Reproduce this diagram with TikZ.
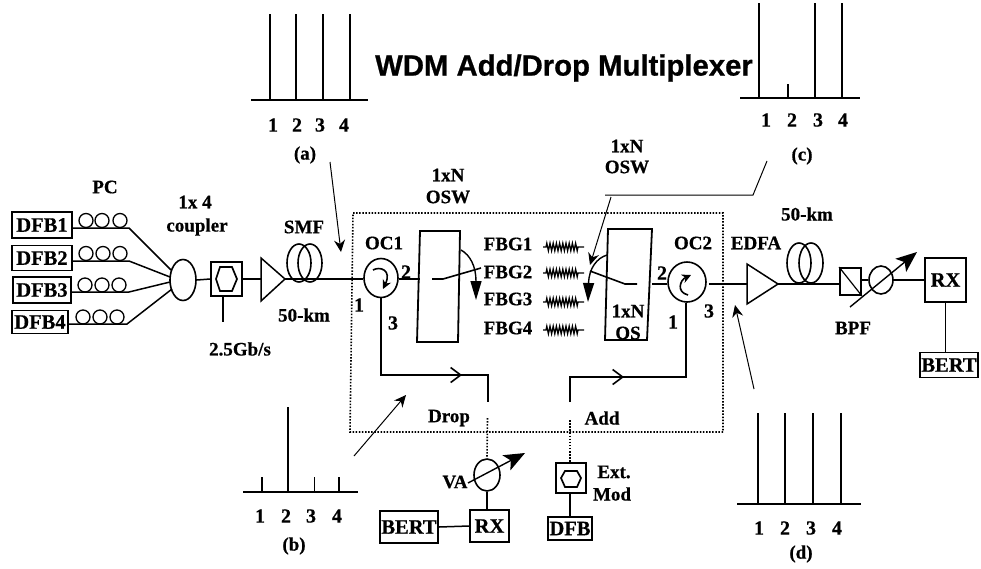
\documentclass[tikz,border=0pt]{standalone}
\usepackage{fontspec}
\setmainfont{Liberation Serif}[BoldFeatures={FakeBold=0.6}]
\newfontfamily\titlefont{Liberation Sans}[BoldFeatures={FakeBold=0.8}]
\usetikzlibrary{arrows.meta,decorations.pathmorphing,calc,shapes.geometric}
\tikzset{
  x=1pt,y=-1pt,
  lbl/.style={inner sep=0pt,font=\bfseries\fontsize{19}{20}\selectfont},
  num/.style={inner sep=0pt,font=\bfseries\fontsize{20}{20}\selectfont},
  bx/.style={draw,line width=1.8pt,inner sep=0pt,font=\bfseries\fontsize{20.5}{20}\selectfont},
  blank/.style={draw,line width=1.8pt,inner sep=0pt},
  fib/.style={line width=1.5pt},
  loopc/.style={draw,circle,line width=1.3pt,minimum size=14pt,inner sep=0pt},
  oval/.style={draw,ellipse,line width=1.6pt,inner sep=0pt},
  spec/.style={line width=1.7pt},
  pointer/.style={line width=1pt,-{Stealth[length=12pt,width=11pt,inset=4pt]}},
  flow/.style={line width=1.6pt,-{Straight Barb[length=10pt,width=15pt]}},
  dots/.style={line width=1.6pt,dash pattern=on 1.5pt off 1.6pt},
  big/.style={line width=1.4pt,-{Stealth[length=21pt,width=17pt,inset=5pt]}},
  swing/.style={line width=1.4pt,-{Triangle[length=19pt,width=11pt]}},
  small swing/.style={line width=1.6pt,-{Stealth[length=9pt,width=9pt]}},
  grating/.style={line width=1.3pt,decorate,decoration={zigzag,segment length=3.2pt,amplitude=3.8pt,pre length=3pt,post length=6pt}},
}
\begin{document}
\begin{tikzpicture}
\useasboundingbox (0,0) rectangle (981,568);
\fill[white] (0,0) rectangle (981,568);
% title
\node[inner sep=0pt,font=\titlefont\bfseries\fontsize{29.3}{30}\selectfont] (title) at (564,68) {WDM Add/Drop Multiplexer};
% dotted box
\coordinate (dA) at (353,213); \coordinate (dB) at (723,213);
\coordinate (dC) at (723,432); \coordinate (dD) at (350,432);
\draw[dots] (dA) -- (dB) -- (dC) -- (dD) -- cycle;
% sources
\node[bx,minimum width=60pt,minimum height=26pt] (dfb1) at (42,225) {DFB1};
\node[bx,minimum width=60pt,minimum height=25pt] (dfb2) at (42,258) {DFB2};
\node[bx,minimum width=58pt,minimum height=26pt] (dfb3) at (42,290) {DFB3};
\node[bx,minimum width=56pt,minimum height=23pt] (dfb4) at (40,322) {DFB4};
\foreach \r/\y/\a/\b/\c in {1/220.5/86/102/120,2/253.5/86/103/120,3/285/85/102/119,4/317/83/100/117}{
  \node[loopc] (pc\r a) at (\a,\y) {};
  \node[loopc] (pc\r b) at (\b,\y) {};
  \node[loopc] (pc\r c) at (\c,\y) {};
}
\node[oval,minimum width=26pt,minimum height=41pt] (coupler) at (183,280) {};
\coordinate (j1) at (129,228); \coordinate (j2) at (129,261);
\coordinate (j3) at (129,292); \coordinate (j4) at (127,324);
\coordinate (c1) at (171,270); \coordinate (c2) at (170,277);
\coordinate (c3) at (170,282); \coordinate (c4) at (172,289);
\draw[fib] (dfb1.east |- j1) -- (j1) -- (c1);
\draw[fib] (dfb2.east |- j2) -- (j2) -- (c2);
\draw[fib] (dfb3.east |- j3) -- (j3) -- (c3);
\draw[fib] (dfb4.east |- j4) -- (j4) -- (c4);
\node[lbl] (pc) at (105,187) {PC};
\node[lbl] (c14) at (195,202) {1x 4};
\node[lbl] (coupl) at (197,227) {coupler};
% modulator 1
\node[blank,minimum width=31pt,minimum height=34pt] (mod) at (226.5,279) {};
\draw[line width=1.7pt] (220,267)--(232,267)--(237,279)--(232,291)--(220,291)--(216,279)--cycle;
\coordinate (modin) at (223,322);
\draw[fib] (mod.south -| modin) -- (modin);
\draw[fib] (coupler.east) -- (mod.west);
\node[lbl] (rate) at (240,349) {2.5Gb/s};
% amp 1
\coordinate (a1t) at (261,258); \coordinate (a1b) at (261,301); \coordinate (a1e) at (285,279);
\draw[line width=1.5pt] (a1t) -- (a1e) -- (a1b) -- cycle;
\draw[fib] (mod.east) -- (a1t |- mod.east);
% SMF coil
\node[oval,minimum width=24pt,minimum height=38pt] (smfL) at (299,263) {};
\node[oval,minimum width=24pt,minimum height=38pt] (smfR) at (310,263) {};
\node[lbl] (smf) at (304,227) {SMF};
\node[lbl] (km1) at (304,315) {50-km};
% OC1
\node[oval,minimum width=34pt,minimum height=39pt] (oc1) at (381,278) {};
\draw[fib] (a1e) -- (oc1.west |- a1e);
\draw[small swing] (373,270) .. controls (380,266) and (392,270) .. (383,289);
\node[lbl] at (384,243) {OC1};
\node[num] at (406,272) {2};
\node[num] at (359,305) {1};
\node[num] at (393,323) {3};
% switch 1
\coordinate (s1a) at (420,231); \coordinate (s1b) at (460,231);
\coordinate (s1c) at (458,342); \coordinate (s1d) at (417,342);
\draw[line width=1.8pt] (s1a) -- (s1b) -- (s1c) -- (s1d) -- cycle;
\draw[fib] (oc1.east |- 0,279) -- (420,279);
\coordinate (p1a) at (432,279); \coordinate (p1b) at (443,279); \coordinate (p1c) at (481,268);
\draw[line width=1.6pt] (p1a) -- (p1b) -- (p1c);
\draw[swing] (461,250) .. controls (470,255) and (476,266) .. (476,300);
\node[lbl] at (448,175) {1xN};
\node[lbl] at (448,197) {OSW};
% FBGs
\foreach \n/\ly/\gy in {1/244/247,2/272/273,3/299/302,4/328/330}{
  \node[lbl] (fbg\n) at (508,\ly) {FBG\n};
  \coordinate (gL\n) at (543,\gy);
  \coordinate (gR\n) at (584,\gy);
  \draw[grating] (gL\n) -- (gR\n);
}
% switch 2
\coordinate (s2a) at (608,229); \coordinate (s2b) at (652,229);
\coordinate (s2c) at (647,340); \coordinate (s2d) at (605,340);
\draw[line width=1.8pt] (s2a) -- (s2b) -- (s2c) -- (s2d) -- cycle;
\coordinate (p2a) at (637,284); \coordinate (p2b) at (625,284); \coordinate (p2c) at (590,271);
\draw[line width=1.6pt] (p2a) -- (p2b) -- (p2c);
\draw[swing] (607,255) .. controls (597,258) and (589,268) .. (588,302);
\node[lbl] at (628,311) {1xN};
\node[lbl] at (628,333) {OS};
\node[lbl] at (627,146) {1xN};
\node[lbl] at (627,167) {OSW};
% OC2
\node[oval,minimum width=38pt,minimum height=40pt] (oc2) at (687,282) {};
\draw[fib] (652,284) -- (oc2.west |- 0,284);
\draw[small swing] (688,295) .. controls (676,292) and (680,280) .. (691,275);
\node[lbl] at (693,243) {OC2};
\node[num] at (662,273) {2};
\node[num] at (673,322) {1};
\node[num] at (709,311) {3};
% Drop and Add paths
\coordinate (d0) at (381,375); \coordinate (d1) at (488,375); \coordinate (d2) at (488,402);
\draw[line width=1.8pt] (oc1.south) -- (d0) -- (d1) -- (d2);
\coordinate (dm) at (462,375);
\draw[flow] (d0) -- (dm);
\coordinate (e0) at (570,402); \coordinate (e1) at (570,377); \coordinate (e2) at (686,377);
\draw[line width=1.8pt] (e0) -- (e1) -- (e2) -- (oc2.south -| e2);
\coordinate (em) at (624,377);
\draw[flow] (e1) -- (em);
\node[lbl] at (449,418) {Drop};
\node[lbl] at (602,418) {Add};
% receiver side of drop
\node[oval,minimum width=26pt,minimum height=32pt] (va) at (487,475) {};
\draw[dots] (487.5,418) -- (va.north);
\draw[big] (468,483) -- (525,453);
\node[lbl] at (455,482) {VA};
\node[bx,minimum width=39pt,minimum height=32pt] (rx1) at (489.5,526) {RX};
\node[bx,minimum width=58pt,minimum height=32pt] (bert1) at (409,527) {BERT};
\draw[fib] (va.south) -- (va.south |- rx1.north);
\draw[fib] (bert1.east) -- (rx1.west);
% add source
\node[blank,minimum width=30pt,minimum height=30pt] (ext) at (571,478) {};
\draw[line width=1.7pt] (565,471)--(577,471)--(581,478)--(577,487)--(565,487)--(561,478)--cycle;
\node[bx,minimum width=44pt,minimum height=23pt] (dfb) at (570,528.5) {DFB};
\draw[dots] (570,420) -- (ext.north -| 570,0);
\draw[fib] (ext.south -| 570,0) -- (dfb.north);
\node[lbl] at (614,472) {Ext.};
\node[lbl] at (612,494) {Mod};
% output line
\coordinate (a2t) at (747,264); \coordinate (a2b) at (747,304); \coordinate (a2e) at (778,284);
\draw[fib] (oc2.east |- a2e) ++(2,0) -- (a2t |- a2e);
\draw[line width=1.5pt] (a2t) -- (a2e) -- (a2b) -- cycle;
\node[oval,minimum width=24pt,minimum height=40pt] (fibL) at (799,263) {};
\node[oval,minimum width=24pt,minimum height=40pt] (fibR) at (811,263) {};
\node[lbl] at (756,243) {EDFA};
\node[lbl] at (807,214) {50-km};
\node[blank,minimum width=21pt,minimum height=27pt] (iso) at (850.5,281.5) {};
\draw[line width=1.2pt] (iso.north west) -- (iso.south east);
\draw[fib] (a2e) -- (iso.west |- a2e);
\node[oval,minimum width=24pt,minimum height=28pt] (bpf) at (881,280) {};
\draw[fib] (iso.east |- bpf) -- (bpf.west);
\draw[big] (850,307) -- (917,252);
\node[lbl] at (853,328) {BPF};
\node[bx,minimum width=41pt,minimum height=44pt] (rx2) at (945.5,280) {RX};
\draw[fib] (bpf.east) -- (rx2.west);
\node[bx,minimum width=58pt,minimum height=25pt] (bert2) at (949,365) {BERT};
\draw[fib] (rx2.south) -- (rx2.south |- bert2.north);
% spectra (a)
\draw[spec] (251,100) -- (368,100);
\foreach \x in {270,296,323,350} \draw[spec] (\x,100) -- (\x,14);
\foreach \x/\t in {273/1,297/2,320/3,344/4} \node[num] at (\x,125) {\t};
\node[lbl] (la) at (305,155) {(a)};
\coordinate (pa) at (330,162); \coordinate (pat) at (341,252);
\draw[pointer] (pa) -- (pat);
% spectra (c)
\draw[spec] (740,98) -- (860,98);
\foreach \x/\y in {759/3,788/84,815/3,842/3} \draw[spec] (\x,98) -- (\x,\y);
\foreach \x/\t in {766/1,792/2,818/3,843/4} \node[num] at (\x,120) {\t};
\node[lbl] (lc) at (802,156) {(c)};
\coordinate (pc0) at (767,161); \coordinate (pc1) at (753,195); \coordinate (pc2) at (605,195);
\draw[line width=1pt] (pc0) -- (pc1) -- (pc2);
\coordinate (pc3) at (611,197); \coordinate (pc4) at (590,265);
\draw[pointer] (pc3) -- (pc4);
% spectra (b)
\draw[spec] (243,492) -- (358,492);
\foreach \x/\y in {262/477,288/407,314.5/477,339/477} \draw[spec] (\x,492) -- (\x,\y);
\foreach \x/\t in {260/1,286/2,311/3,337/4} \node[num] at (\x,516) {\t};
\node[lbl] (lb) at (294,546) {(b)};
\coordinate (pb0) at (354,456); \coordinate (pb1) at (406,395);
\draw[pointer] (pb0) -- (pb1);
% spectra (d)
\draw[spec] (737,504) -- (861,504);
\foreach \x in {758,785,813,841} \draw[spec] (\x,504) -- (\x,413);
\foreach \x/\t in {759/1,785/2,811/3,837/4} \node[num] at (\x,528) {\t};
\node[lbl] (ld) at (801,554) {(d)};
\coordinate (pd0) at (754,389); \coordinate (pd1) at (735,305);
\draw[pointer] (pd0) -- (pd1);
\end{tikzpicture}
\end{document}
